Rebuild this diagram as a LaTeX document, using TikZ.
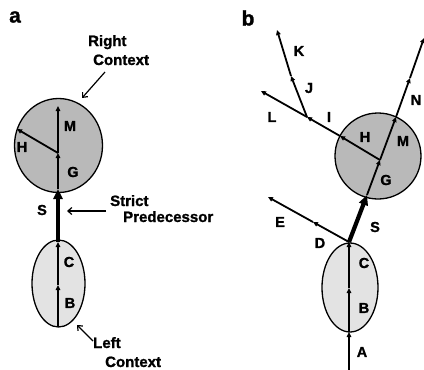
\documentclass[tikz,border=0pt]{standalone}
\usepackage{fontspec}
\setmainfont{Liberation Sans}[BoldFeatures={FakeBold=1.2}]
\usetikzlibrary{arrows.meta,shapes.geometric}
\begin{document}
\begin{tikzpicture}[x=1pt,y=-1pt,
  lbl/.style={font=\fontsize{14.5}{16}\selectfont\bfseries, inner sep=0pt},
  panel/.style={font=\fontsize{21}{24}\selectfont\bfseries, inner sep=0pt},
  ctx/.style={font=\fontsize{15}{16}\selectfont\bfseries, inner sep=0pt, anchor=base west},
  seg/.style={line width=1.8pt, -{Triangle[length=5pt,width=4.5pt]}},
  strictarrow/.style={line width=4.2pt, -{Triangle[length=10pt,width=9pt]}},
  pointer/.style={line width=1.2pt, -{Straight Barb[length=4pt,width=7pt]}},
  rctx/.style={draw, line width=1.3pt, fill=gray!55, circle, inner sep=0pt},
  lctx/.style={draw, line width=1.3pt, fill=gray!22, ellipse, inner sep=0pt}]
\useasboundingbox[fill=white] (0,0) rectangle (424,370);

% ---------------- panel a ----------------
\node[panel] (pa) at (15,17) {a};
\node[rctx, ellipse, minimum width=88pt, minimum height=94pt] (ra) at (58.5,145.5) {};
\node[lctx, minimum width=53pt, minimum height=87pt] (la) at (58.5,283.5) {};

\coordinate (a0) at (58,327);
\coordinate (a1) at (58,285);
\coordinate (a2) at (58,242);
\coordinate (a3) at (58,189);
\coordinate (a4) at (58,153);
\coordinate (a5) at (58,106);
\coordinate (a6) at (17,129);
\draw[seg] (a0) -- (a1);
\draw[seg] (a1) -- (a2);
\draw[strictarrow] (a2) -- (a3);
\draw[seg] (a3) -- (a4);
\draw[seg] (a4) -- (a5);
\draw[seg] (a4) -- (a6);

\node[lbl] (aM) at (70,126) {M};
\node[lbl] (aH) at (22,147) {H};
\node[lbl] (aG) at (73,172) {G};
\node[lbl] (aS) at (42,210) {S};
\node[lbl] (aC) at (69,262) {C};
\node[lbl] (aB) at (70,303) {B};

\node[ctx] (rc1) at (88,46) {Right};
\node[ctx] (rc2) at (93,65) {Context};
\coordinate (rcp0) at (105,72);
\coordinate (rcp1) at (82,98);
\draw[pointer] (rcp0) -- (rcp1);

\node[ctx] (sp1) at (110,206) {Strict};
\node[ctx] (sp2) at (123,222) {Predecessor};
\coordinate (spp0) at (106,211);
\coordinate (spp1) at (67,211);
\draw[pointer] (spp0) -- (spp1);

\node[ctx] (lc1) at (93,348) {Left};
\node[ctx] (lc2) at (105,367) {Context};
\coordinate (lcp0) at (93,341);
\coordinate (lcp1) at (77,325);
\draw[pointer] (lcp0) -- (lcp1);

% ---------------- panel b ----------------
\node[panel] (pb) at (248,18) {b};
\node[rctx, minimum size=86pt] (rb) at (378,156) {};
\node[lctx, minimum width=56pt, minimum height=89pt] (lb) at (350,287.5) {};

\coordinate (b0) at (349,370);
\coordinate (b1) at (349,332);
\coordinate (b2) at (349,288);
\coordinate (b3) at (349,242);
\coordinate (bE) at (268,197);
\coordinate (bD) at (313,222);
\coordinate (bS) at (367,195);
\coordinate (bG) at (380,160);
\coordinate (bM) at (396,117);
\coordinate (bN) at (410,78);
\coordinate (bT) at (424,38);
\coordinate (bH) at (340,136);
\coordinate (bI) at (307,117);
\coordinate (bL) at (261,91);
\coordinate (bJ) at (291,76);
\coordinate (bK) at (277,30);

\draw[seg] (b0) -- (b1);
\draw[seg] (b1) -- (b2);
\draw[seg] (b2) -- (b3);
\draw[seg] (b3) -- (bD);
\draw[seg] (bD) -- (bE);
\draw[strictarrow] (b3) -- (bS);
\draw[seg] (bS) -- (bG);
\draw[seg] (bG) -- (bM);
\draw[seg] (bM) -- (bN);
\draw[seg] (bN) -- (bT);
\draw[seg] (bG) -- (bH);
\draw[seg] (bH) -- (bI);
\draw[seg] (bI) -- (bL);
\draw[seg] (bI) -- (bJ);
\draw[seg] (bJ) -- (bK);

\node[lbl] (lK) at (299,51) {K};
\node[lbl] (lJ) at (309,88) {J};
\node[lbl] (lL) at (272,117) {L};
\node[lbl] (lI) at (329,117) {I};
\node[lbl] (lH) at (365,137) {H};
\node[lbl] (lM) at (403,141) {M};
\node[lbl] (lN) at (416,100) {N};
\node[lbl] (lG) at (386,180) {G};
\node[lbl] (lS) at (375,227) {S};
\node[lbl] (lE) at (280,222) {E};
\node[lbl] (lD) at (320,243) {D};
\node[lbl] (lC) at (364,263) {C};
\node[lbl] (lB) at (364,308) {B};
\node[lbl] (lA) at (362,352) {A};
\end{tikzpicture}
\end{document}
